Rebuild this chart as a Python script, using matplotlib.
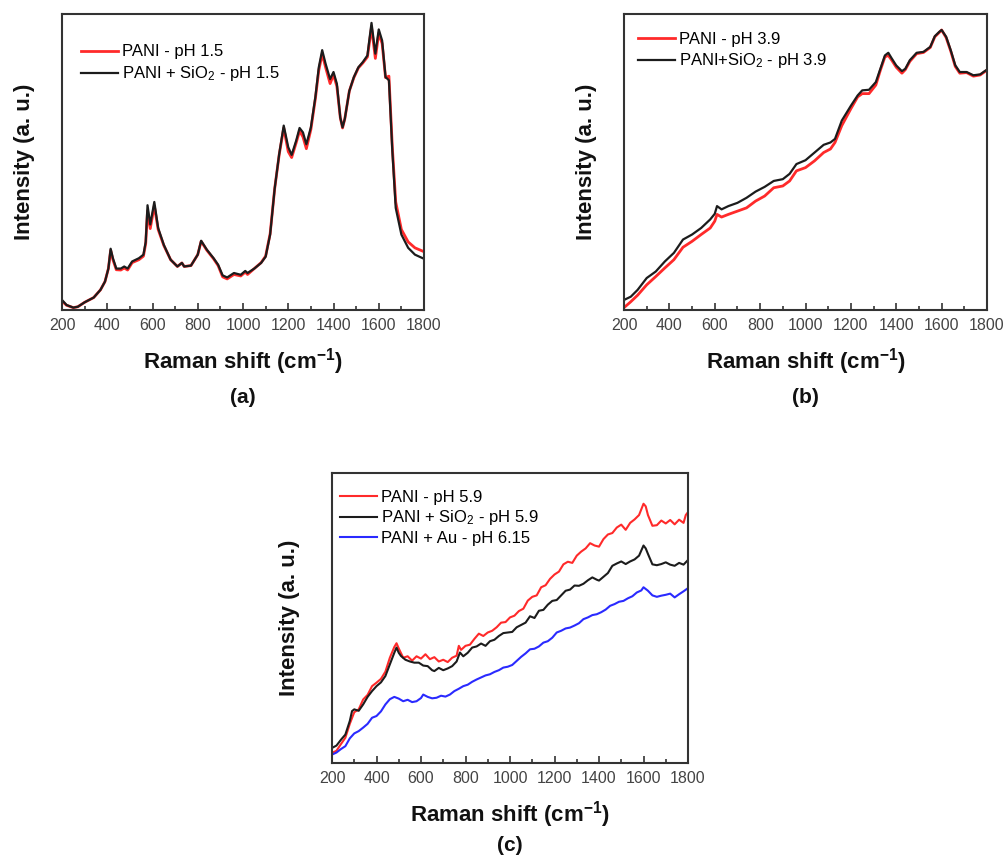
import matplotlib
matplotlib.use("Agg")
from matplotlib import pyplot as plt

plt.rcParams['font.family'] = ['Liberation Sans', 'DejaVu Sans']
plt.rcParams['mathtext.fontset'] = 'custom'
plt.rcParams['mathtext.rm'] = 'Liberation Sans'
plt.rcParams['mathtext.bf'] = 'Liberation Sans:bold'
plt.rcParams['mathtext.it'] = 'Liberation Sans:italic'

RED = '#ff2a2a'
BLACK = '#1c1c1c'
BLUE = '#2a2aff'

# ---- panel (a): pH 1.5 ----
xa = [200, 220, 250, 270, 300, 340, 370, 390, 405, 415, 425, 440, 460, 475, 490,
      510, 540, 560, 570, 578, 590, 608, 625, 650, 680, 710, 730, 740, 770, 800,
      815, 840, 870, 890, 910, 930, 960, 990, 1010, 1020, 1050, 1080, 1100, 1120,
      1140, 1160, 1180, 1200, 1215, 1235, 1250, 1265, 1280, 1300, 1320, 1335, 1350,
      1365, 1385, 1400, 1415, 1430, 1440, 1450, 1470, 1490, 1510, 1530, 1550, 1558,
      1568, 1585, 1600, 1615, 1630, 1645, 1660, 1675, 1700, 1730, 1760, 1800]
a_pani = [3.0, 1.6, 0.8, 1.1, 2.6, 4.2, 6.8, 9.6, 14.0, 20.2, 17.0, 13.6, 13.5, 14.2, 13.5,
          16.0, 17.0, 18.2, 22.5, 33.5, 27.5, 35.2, 27.2, 21.8, 17.0, 14.7, 15.9, 14.7, 15.0, 18.7,
          23.2, 20.2, 17.3, 15.0, 11.2, 10.5, 12.0, 11.5, 12.8, 12.0, 14.0, 16.0, 18.2, 25.8,
          41.0, 52.5, 61.5, 53.5, 51.5, 56.5, 60.5, 58.5, 54.5, 61.0, 71.5, 81.0, 86.5,
          82.0, 76.5, 79.5, 75.5, 65.0, 61.5, 64.6, 74.0, 78.5, 81.8, 83.5, 85.5, 90.0,
          95.5, 85.0, 93.5, 90.0, 78.5, 79.0, 55.0, 36.5, 27.2, 23.0, 21.0, 19.7]
a_sio2 = [3.4, 1.7, 0.8, 1.1, 2.6, 4.2, 6.8, 9.6, 14.0, 20.7, 17.5, 14.0, 14.0, 14.7, 14.0,
          16.4, 17.5, 18.7, 23.0, 35.4, 28.9, 36.5, 27.7, 22.0, 17.0, 14.7, 15.9, 14.7, 15.0, 18.7,
          23.4, 20.4, 17.5, 15.3, 11.7, 11.0, 12.5, 11.9, 13.2, 12.5, 14.0, 15.9, 18.0, 25.5,
          41.0, 52.7, 62.3, 55.0, 52.4, 57.2, 61.5, 60.0, 56.0, 61.7, 72.0, 82.0, 87.8,
          83.2, 78.0, 80.4, 76.4, 65.0, 61.7, 64.6, 74.0, 78.7, 82.0, 83.8, 86.0, 91.0,
          97.0, 86.6, 94.8, 91.0, 78.7, 77.6, 53.8, 34.5, 25.5, 21.0, 18.7, 17.3]

# ---- panel (b): pH 3.9 ----
xb = [200, 230, 260, 300, 340, 380, 420, 460, 500, 540, 580, 600, 610, 630, 660,
      700, 740, 780, 820, 860, 900, 930, 960, 1000, 1040, 1080, 1110, 1130, 1160,
      1200, 1230, 1250, 1280, 1310, 1330, 1350, 1365, 1380, 1400, 1425, 1440, 1460,
      1490, 1520, 1550, 1570, 1590, 1600, 1620, 1640, 1660, 1680, 1710, 1740, 1770,
      1790, 1800]
b_pani = [0.8, 2.8, 5.0, 8.5, 11.3, 14.2, 17.0, 21.2, 23.2, 25.5, 27.7, 30.0, 32.3, 31.4, 32.3,
          33.4, 34.5, 36.8, 38.5, 41.3, 41.9, 43.6, 47.0, 48.1, 50.4, 53.2, 54.4, 56.6, 62.3,
          68.0, 72.0, 73.1, 73.1, 76.0, 81.0, 85.5, 86.0, 84.4, 82.0, 80.0, 81.2, 84.0,
          86.6, 87.0, 88.7, 92.3, 93.8, 94.6, 92.0, 87.5, 82.3, 80.0, 80.2, 79.0, 79.4,
          80.5, 81.0]
b_sio2 = [3.4, 4.5, 6.8, 10.8, 13.0, 16.4, 19.3, 23.8, 25.5, 27.7, 30.6, 32.5, 35.1, 34.0, 35.1,
          36.2, 37.9, 40.0, 41.6, 43.6, 44.2, 46.0, 49.3, 50.6, 53.2, 55.8, 56.6, 57.8, 64.0,
          69.0, 72.5, 74.2, 74.4, 77.0, 81.5, 86.0, 86.9, 85.0, 82.6, 80.7, 81.5, 84.4,
          86.9, 87.2, 88.9, 92.5, 94.0, 94.6, 92.3, 87.8, 82.7, 80.4, 80.4, 79.3, 79.6,
          80.7, 81.2]

# ---- panel (c): pH 5.9 / 6.15 ----
xc_pani = [200, 220, 240, 260, 280, 300, 320, 340, 360, 380, 400, 420, 440, 460, 480,
           490, 500, 520, 540, 560, 580, 600, 620, 640, 660, 680, 700, 720, 740, 760,
           770, 780, 800, 820, 840, 860, 880, 900, 920, 940, 960, 980, 1000, 1020, 1040,
           1060, 1080, 1100, 1120, 1140, 1160, 1180, 1200, 1220, 1240, 1260, 1280, 1300,
           1320, 1340, 1360, 1380, 1400, 1420, 1440, 1460, 1480, 1500, 1520, 1540, 1560,
           1580, 1600, 1610, 1620, 1640, 1660, 1680, 1700, 1720, 1740, 1760, 1780, 1790, 1800]
c_pani = [3.5, 4.2, 6.5, 8.7, 13.5, 17.5, 18.5, 21.9, 23.5, 26.5, 27.7, 29.0, 31.5, 36.3, 40.0,
          41.3, 39.5, 36.3, 36.8, 35.3, 36.8, 36.0, 37.5, 35.8, 36.5, 35.0, 35.6, 34.8, 36.3, 37.0,
          40.4, 39.0, 40.4, 40.8, 42.8, 44.6, 43.8, 45.0, 45.6, 46.8, 48.4, 48.6, 50.2, 50.8, 52.4,
          53.2, 56.0, 57.3, 57.8, 60.6, 61.3, 63.5, 65.0, 66.0, 68.5, 69.4, 69.0, 71.5,
          72.9, 74.0, 75.8, 75.0, 74.6, 77.2, 78.8, 79.3, 81.2, 82.2, 80.4, 82.8, 84.0,
          85.5, 89.4, 88.5, 85.5, 81.8, 82.0, 83.6, 82.6, 83.8, 82.3, 83.9, 82.8, 85.5, 86.5]
xc_sio2 = [200, 220, 240, 260, 280, 290, 300, 320, 340, 360, 380, 400, 420, 440, 460,
           480, 490, 500, 510, 530, 550, 570, 590, 610, 630, 650, 660, 680, 700, 720,
           740, 760, 775, 790, 810, 830, 850, 870, 890, 910, 930, 950, 970, 990, 1010,
           1030, 1050, 1070, 1090, 1110, 1130, 1150, 1170, 1190, 1210, 1230, 1250, 1270,
           1290, 1310, 1330, 1350, 1370, 1390, 1400, 1420, 1440, 1460, 1480, 1500, 1520,
           1540, 1560, 1580, 1600, 1610, 1620, 1640, 1660, 1680, 1700, 1720, 1740, 1760,
           1780, 1800]
c_sio2 = [5.2, 6.0, 8.0, 9.8, 14.5, 17.9, 18.5, 18.0, 20.2, 22.8, 24.8, 26.5, 27.8, 30.0, 34.0,
          38.0, 39.8, 38.0, 36.9, 35.6, 35.0, 34.6, 34.6, 33.6, 33.4, 32.0, 31.7, 32.8, 32.0, 32.6,
          33.4, 35.0, 38.1, 36.8, 38.0, 39.8, 40.2, 41.2, 40.4, 42.0, 42.5, 43.8, 44.8, 45.0, 45.2,
          46.8, 47.6, 48.4, 50.6, 50.0, 52.5, 52.8, 54.6, 55.9, 56.2, 57.8, 59.4, 59.8,
          61.2, 61.1, 61.8, 63.0, 64.0, 63.2, 62.9, 64.2, 65.5, 68.0, 68.8, 69.5, 68.6,
          69.5, 70.2, 71.5, 75.0, 74.0, 72.1, 68.5, 68.2, 68.6, 69.2, 68.4, 68.0, 69.0,
          68.4, 70.0]
xc_au = [200, 220, 240, 260, 280, 300, 320, 340, 360, 380, 400, 420, 440, 460, 480,
         500, 520, 540, 560, 580, 600, 610, 630, 650, 670, 690, 710, 730, 750, 770,
         790, 810, 830, 850, 870, 890, 910, 930, 950, 970, 990, 1010, 1030, 1050, 1070,
         1090, 1110, 1130, 1150, 1170, 1190, 1210, 1230, 1250, 1270, 1290, 1310, 1330,
         1350, 1370, 1390, 1410, 1430, 1450, 1470, 1490, 1510, 1530, 1550, 1570, 1590,
         1600, 1620, 1640, 1660, 1680, 1700, 1720, 1740, 1760, 1780, 1800]
c_au = [2.9, 3.6, 4.8, 5.8, 8.5, 10.2, 11.0, 12.2, 13.5, 15.6, 16.2, 17.8, 20.2, 22.0, 22.8,
        22.2, 21.3, 21.8, 21.0, 21.3, 22.4, 23.6, 22.8, 22.3, 22.5, 23.2, 22.9, 23.6, 24.8, 25.6,
        26.5, 27.0, 28.0, 28.8, 29.5, 30.2, 30.6, 31.4, 32.0, 32.9, 33.2, 33.8, 35.2, 36.6, 37.8,
        39.2, 39.4, 40.2, 41.5, 42.0, 43.2, 45.0, 45.6, 46.4, 46.7, 47.4, 48.2, 49.6,
        50.2, 51.0, 51.3, 52.0, 52.9, 54.2, 54.8, 55.6, 55.9, 56.8, 57.5, 58.8, 59.5,
        60.6, 59.4, 57.8, 57.3, 57.7, 58.0, 58.4, 57.1, 58.2, 59.2, 60.3]

W, H = 1005, 857
fig = plt.figure(figsize=(W / 100, H / 100), dpi=100)


def make_axes(left, top, right, bottom):
    return fig.add_axes([left / W, 1 - bottom / H, (right - left) / W, (bottom - top) / H])


def style(ax, letter, ylabel_pad, letter_y):
    ax.set_xlim(200, 1800)
    ax.set_ylim(0, 100)
    ax.set_yticks([])
    ax.set_xticks(range(200, 1801, 200))
    ax.set_xticks(range(300, 1800, 200), minor=True)
    ax.tick_params(axis='x', which='major', direction='in', length=5, width=1.2,
                   labelsize=11.5, labelcolor='#444444', pad=6, color='#333333')
    ax.tick_params(axis='x', which='minor', direction='in', length=3, width=1.2, color='#333333')
    for s in ax.spines.values():
        s.set_color('#333333')
        s.set_linewidth(1.5)
    ax.set_xlabel(r'Raman shift (cm$^{\mathbf{-1}}$)', fontsize=16, fontweight='bold',
                  labelpad=9, color='#111111')
    ax.set_ylabel('Intensity (a. u.)', fontsize=16, fontweight='bold',
                  labelpad=ylabel_pad, color='#111111')
    ax.text(0.5, letter_y, letter, transform=ax.transAxes, ha='center', va='center',
            fontsize=15, fontweight='bold', color='#111111')


leg_kw = dict(loc='upper left', frameon=False, fontsize=12, handlelength=2.2,
              handletextpad=0.25, borderaxespad=0)

# (a)
ax1 = make_axes(62, 14, 424, 310)
ax1.plot(xa, a_pani, color=RED, lw=2.0, label='PANI - pH 1.5')
ax1.plot(xa, a_sio2, color=BLACK, lw=1.6, label=r'PANI + SiO$_2$ - pH 1.5')
style(ax1, '(a)', 19.5, -0.297)
ax1.legend(bbox_to_anchor=(0.034, 0.92), labelspacing=0.3, **leg_kw)

# (b)
ax2 = make_axes(624, 14, 987, 310)
ax2.plot(xb, b_pani, color=RED, lw=2.0, label='PANI - pH 3.9')
ax2.plot(xb, b_sio2, color=BLACK, lw=1.6, label=r'PANI+SiO$_2$ - pH 3.9')
style(ax2, '(b)', 19.5, -0.297)
ax2.legend(bbox_to_anchor=(0.02, 0.961), labelspacing=0.25, **leg_kw)

# (c)
ax3 = make_axes(332, 473, 688, 763)
ax3.plot(xc_pani, c_pani, color=RED, lw=1.5, label='PANI - pH 5.9')
ax3.plot(xc_sio2, c_sio2, color=BLACK, lw=1.5, label=r'PANI + SiO$_2$ - pH 5.9')
ax3.plot(xc_au, c_au, color=BLUE, lw=1.5, label='PANI + Au - pH 6.15')
style(ax3, '(c)', 23, -0.285)
ax3.legend(bbox_to_anchor=(0.004, 0.964), labelspacing=0.2, **leg_kw)

fig.savefig('out.png', dpi=100)
